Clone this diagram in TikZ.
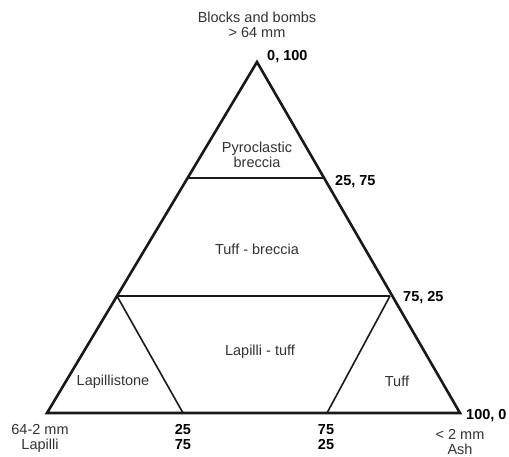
\documentclass[tikz,border=0pt]{standalone}
\usepackage{fontspec}
\setmainfont{Liberation Sans}
\begin{document}
\begin{tikzpicture}[x=1pt,y=-1pt,
  lbl/.style={font=\fontsize{14.5}{16}\selectfont, text=black!80, inner sep=0pt, align=center},
  num/.style={font=\fontsize{14.5}{16}\selectfont\bfseries, text=black, inner sep=0pt, align=center},
  edge/.style={line width=2.6pt, draw=black!90, line join=miter},
  inner/.style={line width=1.6pt, draw=black!90}]
\useasboundingbox (0,0) rectangle (509,456);
\fill[white] (0,0) rectangle (509,456);
\coordinate (A) at (257,62);
\coordinate (L) at (47,413);
\coordinate (R) at (460,413);
\coordinate (p1) at (187.5,178);
\coordinate (p2) at (324.5,178);
\coordinate (q1) at (117,296);
\coordinate (q2) at (390,296);
\coordinate (b1) at (183,413);
\coordinate (b2) at (327,413);
\draw[inner] (p1) -- (p2);
\draw[inner] (q1) -- (q2);
\draw[inner] (q1) -- (b1);
\draw[inner] (q2) -- (b2);
\draw[edge] (A) -- (L) -- (R) -- cycle;
\node[lbl] (top) at (257,25) {Blocks and bombs\\[-1pt]{>} 64 mm};
\node[num,anchor=west] (n0) at (267,57) {0, 100};
\node[lbl] (pb) at (257,155) {Pyroclastic\\[-1pt]breccia};
\node[num,anchor=west] (n1) at (335,182) {25, 75};
\node[lbl] (tb) at (257,249) {Tuff - breccia};
\node[num,anchor=west] (n2) at (403,298) {75, 25};
\node[lbl] (lt) at (260,352) {Lapilli - tuff};
\node[lbl] (ls) at (113,382) {Lapillistone};
\node[lbl] (tf) at (397,381) {Tuff};
\node[num,anchor=west] (n3) at (466,416) {100, 0};
\node[lbl] (lap) at (40,438) {64-2 mm\\[-1pt]Lapilli};
\node[num] (c1) at (183,437) {25\\[-1pt]75};
\node[num] (c2) at (326,437) {75\\[-1pt]25};
\node[lbl] (ash) at (460,442) {{<} 2 mm\\[-1pt]Ash};
\end{tikzpicture}
\end{document}
